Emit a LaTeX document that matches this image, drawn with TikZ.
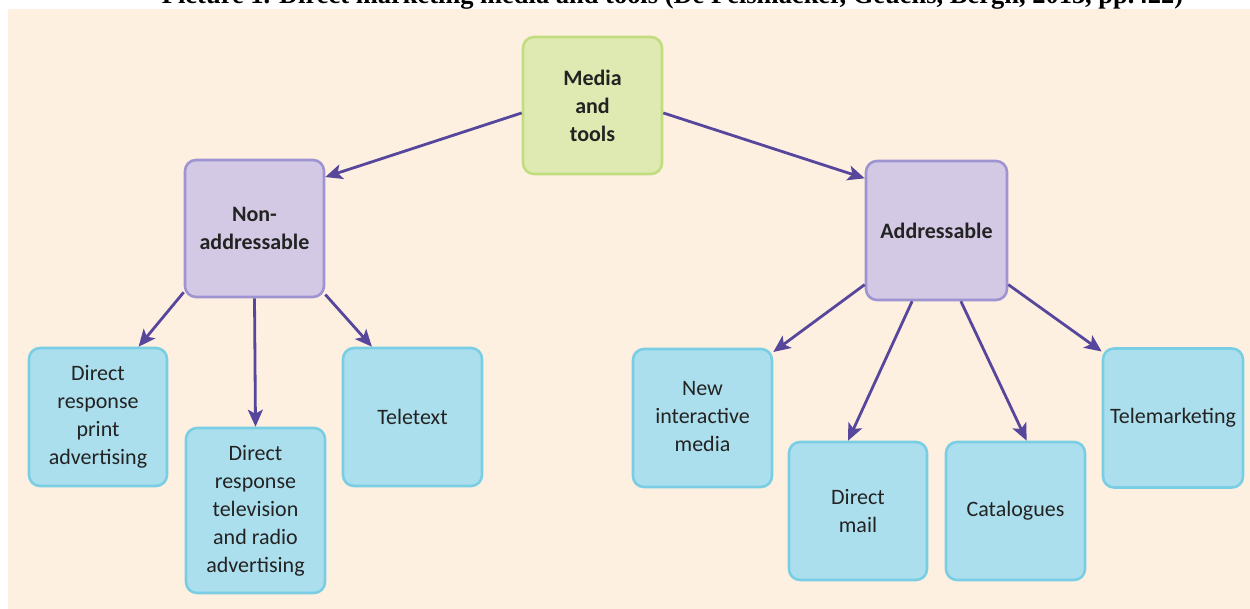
\documentclass[tikz,border=0pt]{standalone}
\usepackage{fontspec}
\setmainfont{Carlito}
\newfontfamily\titlefont{Liberation Serif}
\usetikzlibrary{arrows.meta}
\definecolor{bgbeige}{RGB}{253,240,225}
\definecolor{greenfill}{RGB}{222,234,178}
\definecolor{greenline}{RGB}{194,221,128}
\definecolor{purpfill}{RGB}{211,201,228}
\definecolor{purpline}{RGB}{158,148,210}
\definecolor{bluefill}{RGB}{172,223,237}
\definecolor{blueline}{RGB}{122,206,228}
\definecolor{arrowcol}{RGB}{86,70,156}
\definecolor{txt}{RGB}{35,35,35}
\tikzset{
  box/.style={rounded corners=11pt, line width=2.6pt, align=center, inner sep=0pt,
    text=txt, font=\fontsize{22}{28}\selectfont},
  rootbox/.style={box, fill=greenfill, draw=greenline, font=\fontsize{22}{28}\selectfont\bfseries},
  midbox/.style={box, fill=purpfill, draw=purpline, font=\fontsize{22}{28}\selectfont\bfseries},
  leafbox/.style={box, fill=bluefill, draw=blueline},
  arr/.style={draw=arrowcol, line width=2.8pt, -{Stealth[length=17pt,width=15pt,inset=4pt]}, arrowcol}
}
\begin{document}
\begin{tikzpicture}[x=1pt,y=-1pt]
\useasboundingbox (0,0) rectangle (1250,609);
\clip (0,0) rectangle (1250,609);
\fill[white] (0,0) rectangle (1250,609);
\fill[bgbeige] (8,9) rectangle (1250,609);
\node[anchor=base, inner sep=0pt] (title) at (672.5,4)
  {\resizebox{1021pt}{!}{\titlefont\bfseries Picture 1. Direct marketing media and tools (De Pelsmacker, Geuens, Bergh, 2013, pp.422)}};

% nodes
\node[rootbox, minimum width=139pt, minimum height=137pt] (media) at (592.5,105.5) {Media\\and\\tools};
\node[midbox, minimum width=139pt, minimum height=137pt] (nonaddr) at (254.5,228.5) {Non-\\addressable};
\node[midbox, minimum width=141pt, minimum height=139pt] (addr) at (936.5,230.5) {Addressable};

\node[leafbox, minimum width=138pt, minimum height=138pt] (print) at (98,417) {Direct\\response\\print\\advertising};
\node[leafbox, minimum width=139pt, minimum height=165pt] (tv) at (255.5,510.5) {Direct\\response\\television\\and radio\\advertising};
\node[leafbox, minimum width=139pt, minimum height=138pt] (tele) at (412.5,417) {Teletext};

\node[leafbox, minimum width=139pt, minimum height=138pt] (newm) at (702.5,418) {\raisebox{10pt}{\begin{tabular}{@{}c@{}}New\\interactive\\media\end{tabular}}};
\node[leafbox, minimum width=138pt, minimum height=138pt] (dmail) at (858,511) {Direct\\mail};
\node[leafbox, minimum width=139pt, minimum height=138pt] (cat) at (1015.5,511) {Catalogues};
\node[leafbox, minimum width=140pt, minimum height=139pt] (telm) at (1173,418) {Telemarketing};

% connectors
\draw[arr] (media.186) -- (nonaddr.36);
\draw[arr] (media.354) -- (addr.144);

\draw[arr] (nonaddr.222) -- (print.60);
\draw[arr] (nonaddr.south) -- (tv.north);
\draw[arr] (nonaddr.317) -- (tele.120);

\draw[arr] (addr.217) -- (newm.43);
\draw[arr] (addr.251) -- (dmail.98);
\draw[arr] (addr.289) -- (cat.81);
\draw[arr] (addr.323) -- (telm.137);
\end{tikzpicture}
\end{document}
